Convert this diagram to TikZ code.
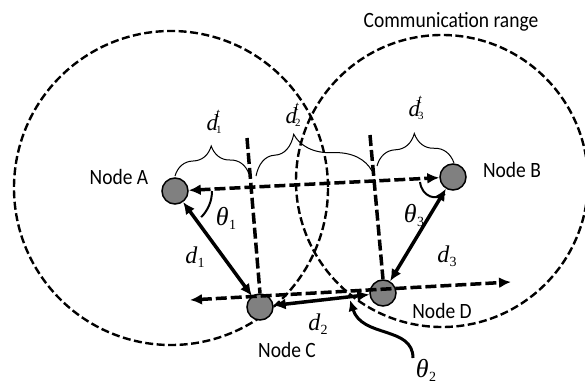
\documentclass[tikz,border=0pt]{standalone}
\usepackage{fontspec}
\setmainfont{Carlito}
\newfontfamily\tms{Liberation Serif}
\usetikzlibrary{arrows.meta,decorations.pathreplacing}
\definecolor{ngray}{RGB}{128,128,128}
\newcommand\sublab[3]{{\fontsize{#3}{#3}\selectfont\tms\itshape #1}\kern0.3pt\raisebox{-4.5pt}{\fontsize{14}{14}\selectfont\tms #2}}
\newcommand\dtlab[1]{{\fontsize{23}{23}\selectfont\tms\itshape d}\kern-2pt\rlap{\raisebox{13pt}{\fontsize{13}{13}\selectfont\tms\itshape t}}\raisebox{-3pt}{\fontsize{11}{11}\selectfont\tms #1}}
\newcommand\tallsans[1]{\scalebox{1}[1.12]{#1}}
\tikzset{
  pnode/.style={circle,draw=black,line width=1.5pt,fill=ngray,minimum size=26pt,inner sep=0pt},
  thickarrow/.style={line width=3.5pt,{Latex[length=12pt,width=11pt]}-{Latex[length=12pt,width=11pt]}},
  dasharrow/.style={thickarrow,dash pattern=on 11pt off 4pt},
  vdash/.style={line width=3.5pt,dash pattern=on 11pt off 4pt},
  rangecirc/.style={line width=2.4pt,dash pattern=on 8pt off 3.5pt},
  brc/.style={line width=1pt,decorate,decoration={brace,amplitude=#1}},
  txt/.style={font=\fontsize{19.5}{20}\selectfont,anchor=base,inner sep=0pt},
  mlab/.style={anchor=base,inner sep=0pt},
  anglearc/.style={line width=2pt},
}
\begin{document}
\begin{tikzpicture}[x=1pt,y=-1pt]
\clip (0,0) rectangle (585,385);
\fill[white] (0,0) rectangle (585,385);
% communication ranges
\draw[rangecirc] (171,188) circle[radius=157];
\draw[rangecirc] (442,181) circle[radius=146];
% nodes
\node[pnode] (A) at (175,191) {};
\node[pnode] (B) at (453,177) {};
\node[pnode] (C) at (260,307) {};
\node[pnode] (D) at (383,293) {};
% free ends
\coordinate (v1) at (247,138);
\coordinate (v2) at (370,135);
\coordinate (L) at (190,300);
\coordinate (R) at (511,282);
% vertical projections
\draw[vdash] (v1) -- (C.north);
\draw[vdash] (v2) -- (D.north);
% links
\draw[dasharrow] (A) -- (B);
\draw[thickarrow] (A) -- (C);
\draw[thickarrow] (C) -- (D);
\draw[thickarrow] (D) -- (B);
\draw[dasharrow] (L) -- (R);
% angles
\draw[anglearc] (A) ++(0:37) arc[start angle=0,end angle=45,radius=37];
\coordinate (t3a) at (420,182);
\coordinate (t3b) at (445,194);
\draw[anglearc] (t3a) .. controls (422,197) and (436,201) .. (t3b);
\coordinate (t2s) at (413,358);
\coordinate (t2e) at (350,300);
\draw[line width=3pt,-{Latex[length=11pt,width=10pt]}] (t2s) .. controls (413,326) and (362,338) .. (t2e);
% braces
\draw[brc=29pt] (175,176) -- (249,174);
\draw[brc=40pt,decoration={aspect=0.34}] (256,176) -- (372,171);
\draw[brc=31pt] (377,166) -- (454,163);
% texts
\node[txt] (tA) at (119,184) {\tallsans{Node A}};
\node[txt] (tB) at (512,177) {\tallsans{Node B}};
\node[txt] (tC) at (287,357) {\tallsans{Node C}};
\node[txt] (tD) at (442,318) {\tallsans{Node D}};
\node[txt] (tR) at (451,28) {\tallsans{Communication range}};
\node[mlab] (ld1) at (195,263) {\sublab{d}{1}{24}};
\node[mlab] (ld2) at (318,330) {\sublab{d}{2}{24}};
\node[mlab] (ld3) at (447,262) {\sublab{d}{3}{24}};
\node[mlab] (lt1) at (226,225) {\sublab{θ}{1}{26}};
\node[mlab] (lt3) at (414,222) {\sublab{θ}{3}{26}};
\node[mlab] (lt2) at (426,377) {\sublab{θ}{2}{26}};
\node[mlab] (ldt1) at (214,130) {\dtlab{1}};
\node[mlab] (ldt2) at (293,123) {\dtlab{2}};
\node[mlab] (ldt3) at (416,116) {\dtlab{3}};
\end{tikzpicture}
\end{document}
